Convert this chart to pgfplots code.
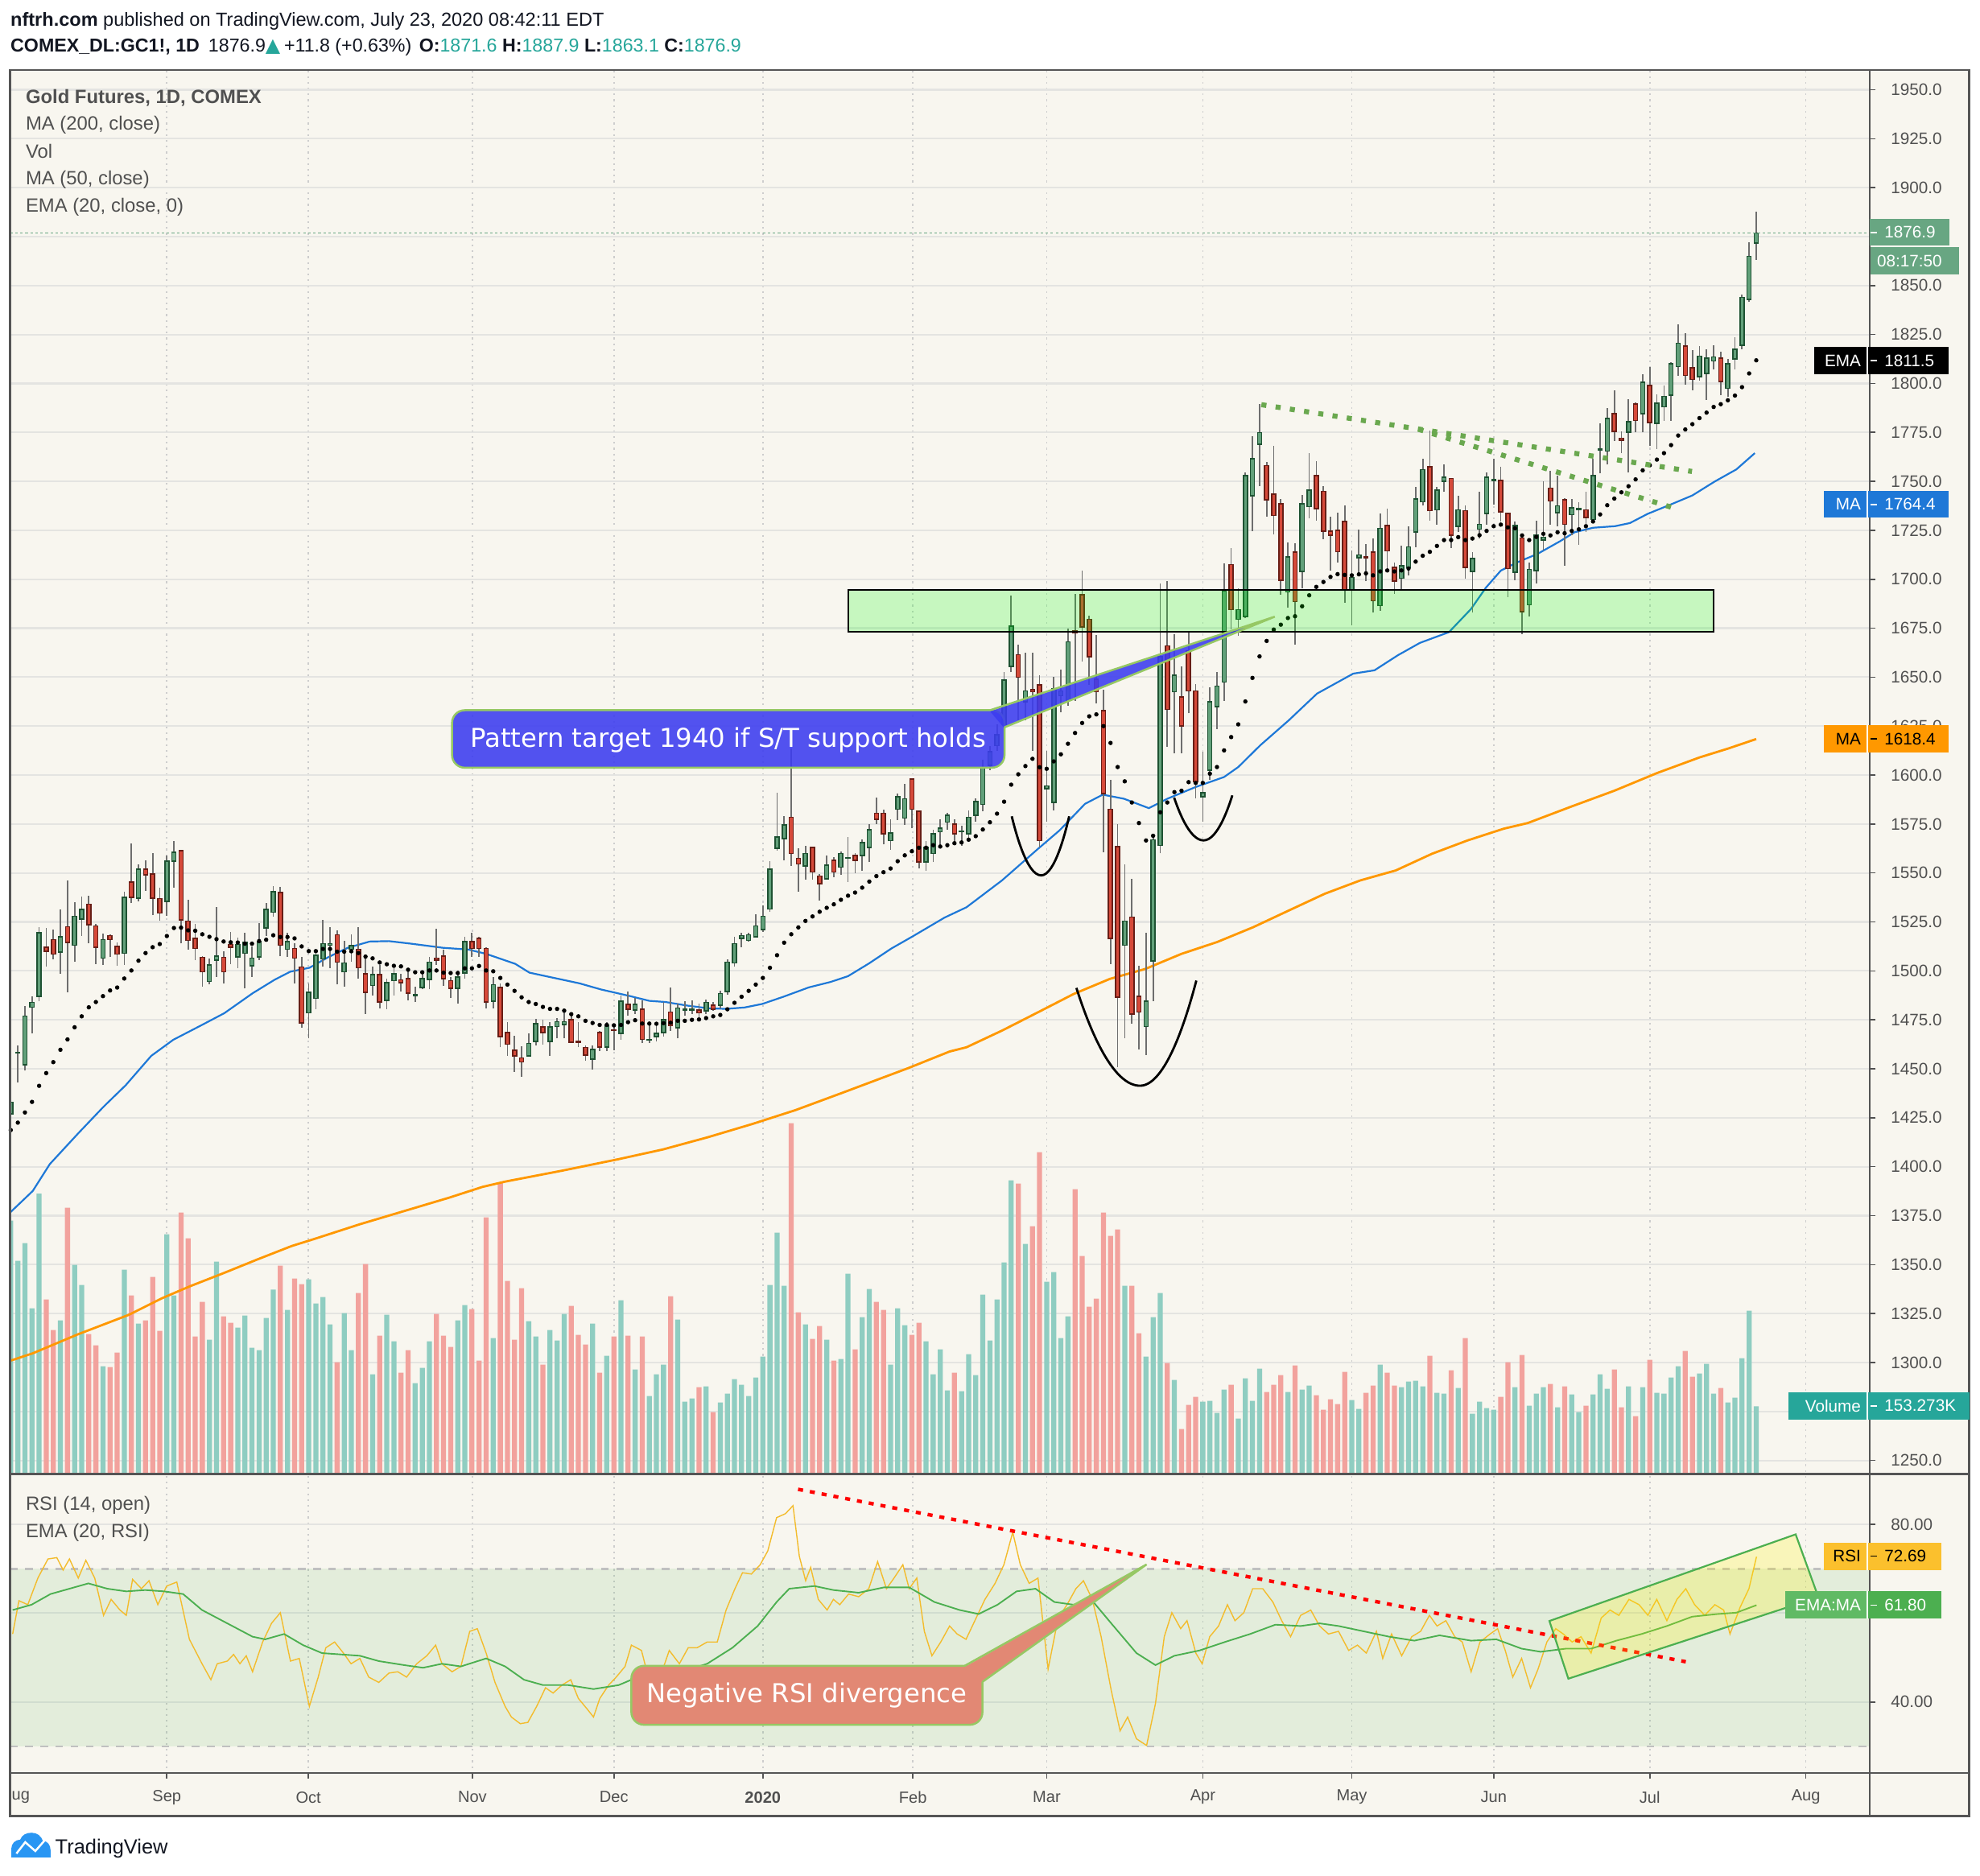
\documentclass[border=0pt]{standalone}
\usepackage{pgfplots}
\pgfplotsset{compat=1.18}
\usepackage{pgfplotstable}
\usepackage{fontspec}
\setmainfont{Liberation Sans}
\newfontfamily\dejavu{DejaVu Sans}

\definecolor{bgc}{RGB}{248,246,239}
\definecolor{gridc}{RGB}{228,228,225}
\definecolor{mgrid}{RGB}{205,205,205}
\definecolor{upfill}{RGB}{98,160,122}
\definecolor{upline}{RGB}{30,82,50}
\definecolor{dnfill}{RGB}{214,74,58}
\definecolor{dnline}{RGB}{104,30,22}
\definecolor{wickc}{RGB}{110,110,110}
\definecolor{volup}{RGB}{143,205,193}
\definecolor{voldn}{RGB}{242,162,157}
\definecolor{ma200}{RGB}{255,152,0}
\definecolor{ma50}{RGB}{30,120,215}
\definecolor{tagg}{RGB}{104,166,130}
\definecolor{tealc}{RGB}{38,166,154}
\definecolor{labc}{RGB}{80,80,80}
\definecolor{tickc}{RGB}{80,80,80}
\definecolor{framec}{RGB}{85,85,85}
\definecolor{hdrc}{RGB}{19,23,34}
\definecolor{legc}{RGB}{80,80,80}
\definecolor{rsic}{RGB}{243,188,45}
\definecolor{rsiema}{RGB}{76,175,80}
\definecolor{bandc}{RGB}{76,175,80}
\definecolor{dashc}{RGB}{192,192,192}
\definecolor{tdots}{RGB}{106,168,79}
\definecolor{cblue}{RGB}{60,60,240}
\definecolor{cborder}{RGB}{150,200,100}
\definecolor{csalmon}{RGB}{226,136,116}
\definecolor{rsitag}{RGB}{251,192,45}
\definecolor{ematag}{RGB}{76,175,80}
\definecolor{ematagl}{RGB}{96,186,100}
\definecolor{tvblue}{RGB}{41,150,243}

\newcommand\fs[1]{\fontsize{#1}{#1}\selectfont}

\pgfplotstableread{
i o h l c v
0 1427 1436 1413 1433 945
1 1458 1462 1443 1458.5 795
2 1452 1482 1449 1477 861
3 1481.5 1487 1468 1484 618
4 1487 1522.5 1484.5 1519.5 1046
5 1512 1522 1502 1510 651
6 1516 1521 1506 1508.5 537
7 1509.5 1531.5 1498.5 1517.5 573
8 1522.5 1546 1489 1514.5 993
9 1513 1535 1504.5 1528 780
10 1526.5 1538 1518 1531.5 705
11 1534 1538.5 1514 1523.5 522
12 1523 1524 1503.5 1512 480
13 1506.5 1519 1503 1516 402
14 1518 1518.5 1507 1516 399
15 1512.5 1514.5 1502.5 1508.5 453
16 1509 1540.5 1503 1537.5 762
17 1545.5 1565 1534.5 1537.5 666
18 1537 1554.5 1535.5 1552 561
19 1552 1556.5 1541 1549 573
20 1549.5 1560 1528.5 1537 735
21 1537 1542.5 1525.5 1529.5 534
22 1535.5 1559 1528 1556 894
23 1556 1566.5 1542.5 1560.5 666
24 1561.5 1562 1514 1526 975
25 1525.5 1536.5 1511 1515.5 879
26 1516.5 1524 1505.5 1511.5 513
27 1507 1507.5 1492 1499.5 642
28 1494.5 1506.5 1493 1503 501
29 1505.5 1532.5 1497 1507.5 792
30 1507 1510 1493.5 1499.5 588
31 1513.5 1520 1503.5 1512 564
32 1507 1517 1501.5 1513.5 546
33 1509 1519.5 1491 1514.5 591
34 1502.5 1512.5 1497 1506.5 471
35 1507 1524.5 1505.5 1515 462
36 1522 1534.5 1518 1531.5 582
37 1530 1543.5 1527.5 1540.5 688
38 1540 1543 1507.5 1513 777
39 1511 1519.5 1507 1515 612
40 1511.5 1514 1493.5 1506.5 729
41 1502 1507 1471 1473.5 708
42 1478.5 1493.5 1465.5 1489 726
43 1486 1511 1480.5 1508 636
44 1506 1526 1502 1514 660
45 1513 1522.5 1501.5 1514 558
46 1518.5 1520.5 1493 1504.5 417
47 1499.5 1515.5 1492 1504 600
48 1511 1518.5 1504.5 1513 462
49 1511 1522.5 1496 1501.5 675
50 1498.5 1507.5 1478 1489 783
51 1492.5 1502 1487.5 1498 372
52 1498 1503 1481 1484 516
53 1485 1496 1480.5 1494 594
54 1495 1503 1487.5 1498.5 495
55 1495.5 1498.5 1489.5 1494 378
56 1496 1500 1485 1488.5 462
57 1487.5 1492 1484 1488 339
58 1491.5 1500 1490.5 1496 396
59 1495.5 1507 1490.5 1504.5 495
60 1506.5 1521.5 1503 1505.5 597
61 1507.5 1511 1492.5 1496 516
62 1495 1497 1486 1491 474
63 1491 1500 1483.5 1497 573
64 1499 1517.5 1496 1515 630
65 1515 1519.5 1507 1511.5 615
66 1516.5 1517.5 1507 1511.5 423
67 1511.5 1512 1481 1484 957
68 1484.5 1497 1481 1493 507
69 1491.5 1493.5 1461 1466.5 1086
70 1468.5 1474 1456.5 1462.5 720
71 1459.5 1467 1448.5 1456.5 501
72 1455.5 1461.5 1446 1453.5 693
73 1456.5 1468 1456 1463 570
74 1464 1475.5 1462 1473 513
75 1471.5 1475 1462.5 1468.5 408
76 1464 1474 1456.5 1471.5 537
77 1471.5 1476 1465.5 1474 498
78 1472.5 1480 1465.5 1474 597
79 1475 1478 1463 1463.5 627
80 1464 1474 1461 1463.5 519
81 1461 1462 1454 1457 483
82 1455 1462 1449.5 1460 561
83 1468.5 1469.5 1459 1461 378
84 1461 1474 1459 1472.5 441
85 1470 1471.5 1459.5 1469.5 513
86 1468 1487.5 1465 1484.5 648
87 1483 1489.5 1477 1480.5 516
88 1480 1486 1478 1483 390
89 1480.5 1485 1463 1465 513
90 1464.5 1474 1463 1465 291
91 1466.5 1473.5 1464 1468 372
92 1468.5 1484 1466.5 1475 408
93 1479 1491.5 1469.5 1472 663
94 1471 1483.5 1465.5 1481 576
95 1480 1484.5 1477 1480.5 270
96 1480 1485 1478 1480.5 282
97 1480 1483.5 1476 1478.5 324
98 1479.5 1485.5 1478 1484 327
99 1482.5 1484 1479.5 1480.5 231
100 1482.5 1490 1481 1488.5 267
101 1489.5 1506 1488 1504.5 300
102 1504 1517.5 1502 1514 354
103 1516.5 1519.5 1512 1518 333
104 1515.5 1519.5 1515 1518.5 291
105 1517.5 1529 1517 1523 360
106 1521 1533.5 1520 1528 438
107 1531.5 1556 1530 1552 705
108 1562.5 1591 1561.5 1568.5 900
109 1567.5 1579 1556.5 1574.5 702
110 1578.5 1613.5 1553.5 1560 1308
111 1557.5 1562.5 1540.5 1554.5 603
112 1553.5 1564 1546.5 1560 558
113 1563 1563 1546.5 1550.5 504
114 1548.5 1549.5 1536 1544.5 552
115 1547 1559 1546.5 1554 501
116 1556.5 1558 1548 1550.5 423
117 1553 1561 1549 1560 429
118 1557.5 1568.5 1545.5 1558 747
119 1559 1560 1550 1556.5 465
120 1559 1567 1551 1565.5 585
121 1563 1575 1555.5 1572 690
122 1580.5 1588.5 1575 1577.5 642
123 1580.5 1582.5 1564.5 1570 612
124 1566.5 1577.5 1562 1570.5 408
125 1582.5 1590.5 1577 1589 618
126 1578 1595.5 1574.5 1588 555
127 1598 1598.5 1573 1582.5 519
128 1581.5 1581.5 1552.5 1555.5 564
129 1555.5 1566.5 1551 1563 495
130 1560 1572 1555.5 1570 372
131 1571 1577.5 1562.5 1573 465
132 1576 1580.5 1572 1579.5 312
133 1575 1577.5 1565.5 1570 378
134 1571 1574 1564 1571.5 309
135 1570 1582 1566.5 1578.5 447
136 1579.5 1588 1576 1586.5 369
137 1585 1608 1581.5 1603.5 669
138 1605 1615 1602.5 1612 498
139 1615 1626 1612.5 1620.5 651
140 1626 1652.5 1624.5 1648.5 789
141 1655.5 1691.5 1652.5 1676 1095
142 1661.5 1666.5 1628 1650 1083
143 1637.5 1662.5 1628 1643 858
144 1643.5 1662.5 1612.5 1642.5 924
145 1646 1651 1563 1566.5 1200
146 1593 1612.5 1576 1594.5 717
147 1586 1650 1582 1644 753
148 1640.5 1654 1632 1643 507
149 1638 1675 1635.5 1668 588
150 1673.5 1692.5 1638 1672.5 1062
151 1692 1704.5 1658 1675.5 813
152 1679.5 1681.5 1646 1660.5 624
153 1649 1671.5 1636.5 1642.5 654
154 1633 1643.5 1560.5 1590.5 975
155 1582.5 1597.5 1503.5 1516.5 888
156 1563.5 1575 1451 1486.5 912
157 1513 1554.5 1465.5 1525.5 702
158 1527.5 1547 1473 1478 702
159 1487 1502.5 1460 1479 525
160 1471.5 1519.5 1457 1484.5 438
161 1505 1570 1484.5 1567 585
162 1564 1698 1560 1660.5 675
163 1666 1699 1614.5 1633.5 414
164 1642.5 1672 1611 1651 351
165 1640 1655.5 1611 1625 168
166 1663.5 1673 1631.5 1643 258
167 1643 1646.5 1588 1596.5 288
168 1589 1612 1576 1591 270
169 1602.5 1645 1597.5 1637.5 273
170 1635 1652.5 1623.5 1645.5 228
171 1647.5 1708 1638 1694 315
172 1707.5 1716 1674.5 1684.5 333
173 1679.5 1695.5 1671 1684.5 207
174 1681 1754.5 1680 1753 357
175 1742.5 1773 1724.5 1761.5 273
176 1769 1789.5 1747.5 1775 393
177 1758 1760 1732 1740.5 306
178 1743.5 1768 1723 1732.5 333
179 1738.5 1741 1692 1699.5 369
180 1693.5 1719 1685.5 1711.5 306
181 1714 1718.5 1666.5 1688.5 405
182 1704 1743 1695.5 1738.5 315
183 1737 1764.5 1731 1745.5 330
184 1753 1760.5 1730 1736 294
185 1745 1747.5 1720.5 1724.5 240
186 1724.5 1732 1704.5 1722.5 279
187 1725 1734 1708.5 1714 261
188 1729.5 1737.5 1688 1694.5 381
189 1694.5 1714.5 1676.5 1701 276
190 1711 1725.5 1702.5 1712.5 243
191 1711.5 1718 1699 1711 303
192 1714 1721 1683 1689 330
193 1686.5 1733.5 1684 1726 408
194 1727.5 1736 1703.5 1714.5 378
195 1706 1708.5 1692.5 1699 330
196 1700.5 1717 1694.5 1707 324
197 1706 1727 1702 1716.5 345
198 1724 1747 1716.5 1741 348
199 1739.5 1761.5 1737.5 1756 327
200 1757.5 1776 1730 1735 441
201 1735.5 1747 1728 1745.5 303
202 1750 1758.5 1744.5 1752 300
203 1751.5 1751.5 1716 1722.5 387
204 1727 1742.5 1724 1735.5 321
205 1735 1737.5 1700.5 1706 507
206 1704 1714 1683 1710.5 225
207 1725.5 1744.5 1721 1728 270
208 1733.5 1754.5 1728 1752 246
209 1750.5 1761.5 1738 1751 240
210 1750.5 1757.5 1729.5 1734.5 288
211 1733.5 1734 1691 1705.5 417
212 1703.5 1729.5 1699.5 1727.5 324
213 1721 1723 1672 1683.5 444
214 1687 1708.5 1681 1705 255
215 1704.5 1730 1698 1722.5 300
216 1720 1750 1714.5 1721.5 324
217 1746.5 1755.5 1728 1740 336
218 1734 1753 1727 1737.5 249
219 1740.5 1741.5 1707 1728 327
220 1733 1741 1722.5 1736.5 297
221 1735.5 1739.5 1717.5 1736 231
222 1735.5 1744.5 1724 1731.5 255
223 1730.5 1761.5 1728.5 1753 297
224 1766 1779.5 1754 1766.5 372
225 1765.5 1787.5 1758.5 1782 318
226 1784.5 1796.5 1770.5 1775.5 390
227 1772 1775.5 1764.5 1771 249
228 1775 1792 1754.5 1780.5 327
229 1789.5 1790.5 1775 1781 216
230 1784.5 1804.5 1775 1800.5 324
231 1799 1808.5 1768 1780 426
232 1779.5 1794.5 1766.5 1790 303
233 1788 1799 1781 1793.5 300
234 1794 1811 1781 1810 360
235 1808.5 1830 1804 1820.5 402
236 1819 1825.5 1799.5 1804 459
237 1808 1817 1796.5 1802 363
238 1803.5 1819 1801.5 1814 375
239 1805 1817.5 1791.5 1813 411
240 1811.5 1819.5 1807 1813.5 300
241 1813 1816 1794 1801 321
242 1797.5 1812.5 1793 1810 267
243 1812.5 1823.5 1807 1817.5 285
244 1819.5 1845.5 1817.5 1844 432
245 1843 1872 1841.5 1865 609
246 1871.6 1887.9 1863.1 1876.9 253
}\candles

\pgfplotstableread{
i e
0 1418.7
1 1422.5
2 1427.7
3 1433.1
4 1441.3
5 1447.8
6 1453.4
7 1459.7
8 1465.0
9 1471.2
10 1476.8
11 1481.4
12 1484.1
13 1487.1
14 1490.0
15 1491.5
16 1496.1
17 1500.2
18 1505.2
19 1509.1
20 1512.1
21 1513.7
22 1517.8
23 1521.9
24 1522.1
25 1520.7
26 1520.5
27 1518.7
28 1517.4
29 1516.2
30 1515.0
31 1514.6
32 1514.5
33 1513.9
34 1513.9
35 1515.2
36 1515.9
37 1518.2
38 1517.3
39 1517.3
40 1516.6
41 1512.5
42 1510.1
43 1510.1
44 1511.2
45 1511.2
46 1509.8
47 1509.8
48 1510.0
49 1509.1
50 1507.3
51 1506.4
52 1504.3
53 1503.4
54 1502.6
55 1502.3
56 1500.6
57 1499.3
58 1499.3
59 1500.2
60 1500.2
61 1499.1
62 1498.9
63 1498.9
64 1501.3
65 1501.3
66 1502.5
67 1500.2
68 1499.8
69 1496.4
70 1493.0
71 1489.8
72 1486.5
73 1484.1
74 1483.1
75 1481.6
76 1480.6
77 1480.6
78 1479.7
79 1477.9
80 1476.8
81 1474.5
82 1473.4
83 1472.4
84 1472.4
85 1472.2
86 1472.4
87 1473.8
88 1474.8
89 1473.1
90 1473.1
91 1473.0
92 1473.3
93 1473.5
94 1474.5
95 1474.5
96 1475.0
97 1475.2
98 1475.9
99 1476.8
100 1477.5
101 1480.4
102 1483.7
103 1486.8
104 1489.8
105 1493.0
106 1496.4
107 1501.6
108 1508.0
109 1514.4
110 1518.7
111 1522.2
112 1525.5
113 1527.8
114 1530.2
115 1532.2
116 1534.0
117 1536.3
118 1538.4
119 1540.0
120 1542.5
121 1545.6
122 1548.4
123 1550.4
124 1552.3
125 1556.0
126 1559.0
127 1561.1
128 1562.9
129 1562.9
130 1564.2
131 1563.5
132 1564.2
133 1565.2
134 1565.6
135 1567.0
136 1568.8
137 1572.2
138 1575.9
139 1580.3
140 1586.4
141 1595.1
142 1600.4
143 1604.6
144 1608.3
145 1604.0
146 1603.2
147 1607.0
148 1610.6
149 1616.0
150 1621.5
151 1626.6
152 1630.0
153 1631.0
154 1625.0
155 1616.4
156 1604.1
157 1596.8
158 1586.0
159 1575.5
160 1566.6
161 1569.0
162 1581.0
163 1586.0
164 1591.3
165 1592.0
166 1596.4
167 1596.0
168 1596.0
169 1600.7
170 1604.1
171 1612.6
172 1619.4
173 1625.9
174 1637.6
175 1649.6
176 1660.6
177 1668.5
178 1674.3
179 1676.8
180 1680.2
181 1681.1
182 1686.2
183 1691.8
184 1696.1
185 1698.6
186 1701.2
187 1702.6
188 1702.2
189 1702.0
190 1702.5
191 1703.0
192 1702.0
193 1704.0
194 1704.5
195 1704.0
196 1704.5
197 1705.5
198 1709.0
199 1712.0
200 1714.0
201 1717.0
202 1720.0
203 1720.0
204 1721.5
205 1720.0
206 1720.8
207 1722.5
208 1724.7
209 1727.1
210 1727.9
211 1726.5
212 1726.0
213 1722.4
214 1720.0
215 1721.6
216 1723.2
217 1722.4
218 1724.0
219 1723.5
220 1724.7
221 1725.5
222 1727.1
223 1729.5
224 1733.1
225 1737.8
226 1741.2
227 1744.4
228 1747.5
229 1751.0
230 1755.6
231 1758.2
232 1761.1
233 1764.4
234 1768.5
235 1773.4
236 1776.5
237 1779.2
238 1782.3
239 1785.1
240 1788.0
241 1789.4
242 1791.4
243 1793.8
244 1798.1
245 1805.1
246 1811.8
}\emadata

\pgfplotsset{
  mainax/.style={at={(4pt,158.85pt)}, anchor=south west, scale only axis,
    width=736.2pt, height=555.9pt, xmin=-0.09, xmax=261.95, ymin=1243.0, ymax=1959.9},
  bodyup/.style={draw=none, mark=none, forget plot,
    restrict expr to domain={\thisrow{c}-\thisrow{o}}{0:10000}},
  bodydn/.style={draw=none, mark=none, forget plot,
    restrict expr to domain={\thisrow{c}-\thisrow{o}}{-10000:0}},
}
\tikzset{disp/.style={x=0.5pt, y=-0.5pt, yshift=742.6pt}}

\begin{document}
\begin{tikzpicture}
\useasboundingbox (0,0) rectangle (784pt,742.6pt);
\fill[white] (0,0) rectangle (784pt,742.6pt);
\begin{scope}[disp]
\fill[bgc] (8,55.7) rectangle (1559.4,1438.3);
\foreach \x in {132.1,244.2,374.1,486.2,604.1,722.9,828.9,952.5,1070.5,1182.9,1306.5,1430.1}{
  \draw[mgrid, line width=0.5pt, dash pattern=on 0.7pt off 1.6pt] (\x,55.7) -- (\x,1404.2);
}
\end{scope}

% ---- axis 1: price grid and labels
\begin{axis}[mainax, axis line style={draw=none}, xtick=\empty,
  ytick={1250,1300,1325,1350,1375,1400,1425,1450,1475,1500,1525,1550,1575,1600,1625,1650,1675,1700,1725,1750,1775,1800,1825,1850,1900,1925,1950},
  extra y ticks={1275,1875}, extra y tick labels={}, extra y tick style={grid=major},
  ymajorgrids, grid style={gridc, line width=0.7pt},
  ytick pos=right, yticklabel pos=right, tick align=outside, major tick length=2.5pt,
  tick style={draw=tickc, line width=0.5pt},
  yticklabel style={font=\fs{6.6}, text=labc, anchor=west, inner sep=0pt, xshift=5.8pt,
    /pgf/number format/.cd, fixed, fixed zerofill, precision=1, 1000 sep={}, assume math mode=true}]
\addplot[draw=none, forget plot] coordinates {(0,1300)};
\end{axis}

% ---- axis 2: volume
\begin{axis}[mainax, ymin=0, ymax=5233, hide axis]
\addplot[ybar, bar width=2.0pt, bar shift=0pt, draw=none, fill=volup,
  restrict expr to domain={\thisrow{c}-\thisrow{o}}{0:10000}] table[x=i, y=v] {\candles};
\addplot[ybar, bar width=2.0pt, bar shift=0pt, draw=none, fill=voldn,
  restrict expr to domain={\thisrow{c}-\thisrow{o}}{-10000:0}] table[x=i, y=v] {\candles};
\end{axis}

% ---- axis 3: price plots
\begin{axis}[mainax, hide axis]
\addplot[ma200, line width=0.9pt] coordinates {(0,1301) (3.1,1304.7) (9.4,1314.3) (16.6,1324.3) (21.3,1332.8) (25.3,1339) (30.1,1345.8) (34.8,1352.7) (39.6,1359.5) (42.7,1363) (49.1,1370.5) (55.4,1377.3) (61.8,1384.2) (66.5,1389.7) (69.7,1392.4) (77.6,1397.9) (85.6,1403.8) (91.9,1408.8) (98.2,1415) (104.6,1421.9) (110.6,1428.9) (117.1,1437.6) (126.6,1450.5) (132.3,1458.8) (134.7,1461) (139.7,1469.5) (144.8,1478.9) (149.8,1488.2) (154.9,1495.9) (159.9,1501) (165,1508.7) (170,1514.7) (175.1,1522.3) (180.1,1530.8) (185.2,1539.4) (190.2,1546.2) (195.2,1551.3) (200.3,1559.8) (205.3,1566.6) (210.4,1572.6) (213.8,1575.5) (220,1584) (226,1592) (232,1601) (238,1609) (242,1613.5) (246,1618.4)};
\addplot[ma50, line width=0.7pt] coordinates {(0,1376.9) (3.1,1387.6) (5.5,1401.3) (9.5,1417) (13.1,1430.7) (16.2,1441.6) (19.8,1456.6) (22.9,1464.8) (26.9,1472.3) (30.1,1478.4) (34.1,1488.6) (37.2,1495.5) (39.4,1499.6) (42.1,1501.6) (44.8,1507.1) (47.5,1511.8) (50.6,1515) (53.3,1515.2) (56.4,1513.9) (60.9,1511.8) (64.5,1510.9) (67,1508.7) (71.1,1503.6) (73.1,1499.1) (77.1,1496) (80.2,1493.6) (83.2,1490.5) (87.2,1487.2) (90,1484.7) (92.3,1484.1) (95.3,1482.3) (98.3,1480.9) (100.8,1480.6) (103.4,1481.3) (105.9,1483.1) (108.9,1486.8) (112.5,1491.6) (115.5,1494.3) (118,1497.3) (121,1503.9) (124.1,1511.4) (127.1,1517.6) (131.6,1527.2) (134.7,1532.5) (139.7,1546.2) (144.8,1562.4) (147.8,1571.7) (151.4,1585.3) (153.9,1590) (156.9,1587.9) (160.4,1583.1) (163,1587.9) (167,1593.9) (171,1599) (173,1604.1) (176.1,1615.2) (180.1,1627.9) (184.1,1641.6) (189.2,1651.8) (192.2,1653.5) (195.5,1661.2) (198.6,1667.5) (202.7,1673) (205.8,1684.8) (207.9,1695.7) (210,1704.4) (212.1,1708.3) (215.2,1713) (218.3,1719.3) (220.4,1724) (223,1726.3) (226.1,1727.1) (228.2,1728.7) (230.7,1733.4) (233.9,1738.1) (237,1742.8) (240.1,1749.8) (243.2,1756.1) (245.8,1764.4)};
% wicks
\addplot[draw=none, mark=none, forget plot, error bars/.cd, y dir=plus, y explicit, error mark=none,
  error bar style={draw=wickc, line width=0.55pt, solid}]
  table[x=i, y=l, y error plus expr={\thisrow{h}-\thisrow{l}}] {\candles};
% up bodies
\addplot[bodyup, error bars/.cd, y dir=plus, y explicit, error mark=none,
  error bar style={draw=upline, line width=2.1pt, solid}]
  table[x=i, y expr={min(\thisrow{o},\thisrow{c})-0.3}, y error plus expr={abs(\thisrow{c}-\thisrow{o})+0.6}] {\candles};
\addplot[bodyup, error bars/.cd, y dir=plus, y explicit, error mark=none,
  error bar style={draw=upfill, line width=1.1pt, solid}]
  table[x=i, y expr={min(\thisrow{o},\thisrow{c})+0.35}, y error plus expr={max(abs(\thisrow{c}-\thisrow{o})-0.7,0)}] {\candles};
% down bodies
\addplot[bodydn, error bars/.cd, y dir=plus, y explicit, error mark=none,
  error bar style={draw=dnline, line width=2.1pt, solid}]
  table[x=i, y expr={min(\thisrow{o},\thisrow{c})-0.3}, y error plus expr={abs(\thisrow{c}-\thisrow{o})+0.6}] {\candles};
\addplot[bodydn, error bars/.cd, y dir=plus, y explicit, error mark=none,
  error bar style={draw=dnfill, line width=1.1pt, solid}]
  table[x=i, y expr={min(\thisrow{o},\thisrow{c})+0.35}, y error plus expr={max(abs(\thisrow{c}-\thisrow{o})-0.7,0)}] {\candles};
% EMA 20 dots
\addplot[only marks, mark=*, mark size=0.65pt, mark options={fill=black, draw=none}] table[x=i, y=e] {\emadata};
\end{axis}

% ---- RSI pane
\begin{axis}[at={(4pt,40.5pt)}, anchor=south west, scale only axis, width=736.2pt, height=118.35pt,
  xmin=8, xmax=1480.4, ymin=24.0, ymax=91.3, axis line style={draw=none}, xtick=\empty,
  ytick={40,80}, extra y ticks={60}, extra y tick labels={}, extra y tick style={grid=major},
  ymajorgrids, grid style={gridc, line width=0.7pt},
  ytick pos=right, yticklabel pos=right, tick align=outside, major tick length=2.5pt,
  tick style={draw=tickc, line width=0.5pt},
  yticklabel style={font=\fs{6.6}, text=labc, anchor=west, inner sep=0pt, xshift=5.8pt,
    /pgf/number format/.cd, fixed, fixed zerofill, precision=2, assume math mode=true}]
\fill[bandc, fill opacity=0.12] (axis cs:8,30) rectangle (axis cs:1480.4,70);
\draw[dashc, line width=0.9pt, dash pattern=on 3pt off 3pt] (axis cs:8,70) -- (axis cs:1478,70);
\draw[dashc, line width=0.9pt, dash pattern=on 3pt off 3pt] (axis cs:8,30) -- (axis cs:1478,30);
\addplot[rsic, line width=0.45pt] coordinates {(10,55.3) (15,62.8) (22,61.9) (30,67.9) (38,72.2) (45,72.5) (50,69.7) (55,72.2) (62,67.9) (68,71.9) (75,67.9) (82,59.5) (88,63.1) (95,60.7) (100,59.5) (105,67.6) (112,65.5) (118,67.3) (125,61.9) (132,66.1) (140,67.0) (150,54.1) (160,48.6) (167,45.0) (172,48.6) (180,49.2) (185,50.7) (190,48.6) (195,50.4) (200,46.8) (208,53.5) (215,57.7) (222,60.1) (230,49.2) (237,49.8) (245,39.0) (252,45.6) (258,52.2) (265,53.5) (272,51.0) (278,48.6) (285,49.8) (292,45.6) (300,44.4) (308,46.5) (315,46.8) (322,45.6) (330,48.6) (338,50.4) (345,52.8) (350,48.6) (358,46.8) (365,48.0) (372,55.9) (378,56.5) (385,51.0) (392,44.4) (400,39.0) (405,36.6) (412,35.1) (418,35.4) (425,39.0) (432,43.2) (438,42.0) (445,43.8) (452,45.0) (458,40.8) (465,38.4) (470,36.6) (475,40.8) (482,43.8) (488,45.6) (495,48.0) (500,52.8) (508,51.6) (515,43.8) (522,45.0) (530,51.6) (538,48.6) (545,52.2) (552,52.2) (560,53.5) (568,53.5) (575,60.7) (582,65.5) (588,69.1) (595,68.8) (602,70.9) (608,74.0) (615,81.5) (622,82.4) (628,84.2) (633,72.8) (638,67.3) (642,70.3) (648,63.1) (655,60.7) (660,63.1) (665,61.9) (672,64.3) (680,63.7) (688,65.5) (695,71.6) (702,65.5) (708,67.9) (715,70.9) (720,65.5) (726,67.9) (732,55.9) (738,50.4) (745,53.5) (752,57.1) (758,55.3) (765,54.1) (772,58.3) (780,63.1) (788,66.7) (795,70.9) (802,78.2) (808,70.9) (815,66.7) (822,67.9) (830,47.4) (838,58.9) (845,61.9) (852,65.5) (858,67.3) (865,63.1) (872,54.7) (880,42.6) (887,33.5) (893,36.6) (900,31.7) (908,30.2) (915,39.6) (922,54.7) (928,60.1) (935,56.5) (940,58.3) (947,51.0) (952,48.6) (958,54.7) (965,57.1) (972,61.9) (978,58.3) (985,60.1) (992,65.5) (1000,65.5) (1008,62.5) (1015,58.3) (1022,54.7) (1030,59.5) (1038,60.7) (1045,57.1) (1052,55.3) (1060,55.9) (1068,51.6) (1075,52.8) (1082,51.0) (1090,55.9) (1095,49.8) (1102,55.3) (1110,50.4) (1118,54.7) (1125,55.9) (1132,59.5) (1138,57.1) (1145,58.3) (1152,54.7) (1158,53.5) (1165,46.8) (1172,53.5) (1180,55.3) (1186,56.5) (1192,51.6) (1198,45.6) (1205,49.8) (1212,43.2) (1218,47.4) (1225,53.5) (1232,56.5) (1238,55.3) (1245,53.5) (1252,54.7) (1260,51.0) (1268,58.9) (1275,60.7) (1282,59.5) (1290,63.1) (1298,61.9) (1305,59.5) (1312,63.1) (1320,58.3) (1328,63.1) (1335,65.5) (1342,61.9) (1350,59.5) (1358,61.9) (1365,60.7) (1370,55.3) (1378,61.3) (1385,65.5) (1391,72.7)};
\addplot[rsiema, line width=0.6pt] coordinates {(10,60.7) (25,61.9) (40,64.3) (55,65.5) (70,66.7) (85,65.5) (100,64.9) (115,65.2) (130,64.9) (145,64.3) (160,60.7) (180,57.7) (200,54.7) (210,54.1) (225,55.3) (240,52.8) (255,51.0) (270,50.7) (285,50.4) (300,49.2) (320,48.3) (335,47.7) (350,48.6) (365,48.0) (385,49.8) (400,48.0) (415,45.0) (430,43.8) (450,43.8) (470,42.9) (490,43.8) (505,45.6) (520,45.9) (540,46.8) (560,48.6) (580,52.2) (600,57.1) (615,62.5) (625,65.5) (645,66.1) (660,65.2) (680,64.6) (700,65.8) (720,65.8) (740,62.5) (760,60.7) (775,59.8) (790,61.9) (805,64.9) (820,65.5) (835,62.5) (850,61.9) (865,62.8) (880,57.7) (900,51.0) (915,48.3) (930,50.4) (950,51.6) (970,53.5) (990,55.3) (1010,57.4) (1030,57.1) (1045,57.7) (1060,57.1) (1080,55.9) (1100,54.7) (1120,53.8) (1140,55.0) (1165,53.8) (1185,54.1) (1205,52.0) (1220,51.3) (1240,52.0) (1260,52.0) (1280,53.8) (1300,55.3) (1320,57.1) (1340,59.2) (1360,59.8) (1375,60.1) (1391,61.8)};
\end{axis}

\begin{scope}[disp]
% ---- current price line
\draw[tagg, line width=0.5pt, dash pattern=on 1pt off 1pt] (8,184.4) -- (1480.4,184.4);

% ---- support zone
\fill[green, fill opacity=0.2] (672,467.3) rectangle (1357,500.3);
\draw[black, line width=0.6pt] (672,467.3) rectangle (1357,500.3);

% ---- head and shoulders arcs
\draw[black, line width=0.9pt] (801.2,646.5) parabola bend (824.5,693.3) (846.7,646.5);
\draw[black, line width=0.9pt] (852.4,782.4) parabola bend (902.8,859.9) (947.4,776.6);
\draw[black, line width=0.9pt] (929.8,631.7) parabola bend (953.1,665.6) (975.9,629.9);

% ---- green dotted trendlines
\draw[tdots, line width=2pt, dash pattern=on 2pt off 3.7pt] (998.9,320.5) -- (1339.9,373.4);
\draw[tdots, line width=2pt, dash pattern=on 2pt off 3.7pt] (1123.3,340) -- (1326.7,402.7);

% ---- blue callout
\fill[cblue, fill opacity=0.88, draw=cborder, line width=0.8pt, rounded corners=5pt] (358,562.5) rectangle (795.5,608);
\fill[cblue, fill opacity=0.88] (784,563.3) -- (1009.5,488.4) -- (794.7,576) -- cycle;
\draw[cborder, line width=0.8pt] (784,562.5) -- (1009.5,488.4) -- (795.5,576);
\node[anchor=west, inner sep=0pt, text=white, font=\dejavu\fs{10.3}] at (372,586) {Pattern target 1940 if S/T support holds};

% ---- RSI annotations
\draw[red, line width=1.4pt, dash pattern=on 2pt off 2.75pt] (632,1179.5) -- (1335,1316.1);
\fill[yellow, fill opacity=0.22, draw=rsiema, line width=0.7pt] (1227,1283.8) -- (1422,1215.2) -- (1440,1265) -- (1242,1329.5) -- cycle;
\fill[csalmon, draw=cborder, line width=0.8pt, rounded corners=5pt] (500,1319.3) rectangle (778,1366);
\fill[csalmon] (764,1320.2) -- (908,1239) -- (777.2,1332) -- cycle;
\draw[cborder, line width=0.8pt] (764,1319.3) -- (908,1239) -- (778,1332);
\node[inner sep=0pt, text=white, font=\dejavu\fs{10.3}] at (639,1343) {Negative RSI divergence};

% ---- frame
\draw[framec, line width=0.7pt] (8,55.7) rectangle (1559.4,1438.3);
\draw[framec, line width=0.7pt] (1480.4,55.7) -- (1480.4,1438.3);
\draw[framec, line width=0.9pt] (8,1167.5) -- (1559.4,1167.5);
\draw[framec, line width=0.7pt] (8,1404.2) -- (1559.4,1404.2);
\foreach \x in {132.1,244.2,374.1,486.2,604.1,722.9,828.9,952.5,1070.5,1182.9,1306.5,1430.1}{
  \draw[framec, line width=0.5pt] (\x,1404.2) -- (\x,1408.6);
}

% ---- time labels
\begin{scope}[every node/.style={inner sep=0pt, font=\fs{6.4}, text=labc}]
\node[anchor=west] at (9,1423.4) {ug};
\node at (132.1,1423.4) {Sep};
\node at (244.2,1423.4) {Oct};
\node at (374.1,1423.4) {Nov};
\node at (486.2,1423.4) {Dec};
\node[font=\fs{6.4}\bfseries] at (604.1,1423.4) {2020};
\node at (722.9,1423.4) {Feb};
\node at (828.9,1423.4) {Mar};
\node at (952.5,1423.4) {Apr};
\node at (1070.5,1423.4) {May};
\node at (1182.9,1423.4) {Jun};
\node at (1306.5,1423.4) {Jul};
\node at (1430.1,1423.4) {Aug};
\end{scope}

% ---- tags
\begin{scope}[every node/.style={inner sep=0pt, font=\fs{6.6}}]
\fill[tagg] (1480.4,173.5) rectangle (1543.5,194.6);
\draw[white, line width=0.5pt] (1481.5,184.1) -- (1486.4,184.1);
\node[anchor=west, text=white] at (1492,184.1) {1876.9};
\fill[tagg] (1481.6,195.9) rectangle (1551.7,217.5);
\node[anchor=west, text=white] at (1486,206.7) {08:17:50};
\fill[black] (1436.6,275) rectangle (1543.4,296.1);
\draw[white, line width=0.6pt] (1478.6,275) -- (1478.6,296.1);
\draw[white, line width=0.5pt] (1481.5,285.5) -- (1486.4,285.5);
\node[anchor=east, text=white] at (1474,285.5) {EMA};
\node[anchor=west, text=white] at (1492,285.5) {1811.5};
\fill[ma50] (1444.3,389) rectangle (1543.4,410);
\draw[white, line width=0.6pt] (1478.6,389) -- (1478.6,410);
\draw[white, line width=0.5pt] (1481.5,399.5) -- (1486.4,399.5);
\node[anchor=east, text=white] at (1474,399.5) {MA};
\node[anchor=west, text=white] at (1492,399.5) {1764.4};
\fill[ma200] (1444.3,574.2) rectangle (1543.4,596.1);
\draw[white, line width=0.6pt] (1478.6,574.2) -- (1478.6,596.1);
\draw[black, line width=0.5pt] (1481.5,585.1) -- (1486.4,585.1);
\node[anchor=east, text=black] at (1474,585.1) {MA};
\node[anchor=west, text=black] at (1492,585.1) {1618.4};
\fill[tealc] (1416.2,1102.6) rectangle (1559.4,1124.2);
\draw[white, line width=0.6pt] (1478.6,1102.6) -- (1478.6,1124.2);
\draw[white, line width=0.5pt] (1481.5,1113.4) -- (1486.4,1113.4);
\node[anchor=east, text=white] at (1474,1113.4) {Volume};
\node[anchor=west, text=white] at (1492,1113.4) {153.273K};
\fill[rsitag] (1444.3,1221.7) rectangle (1537.1,1243.3);
\draw[white, line width=0.6pt] (1478.6,1221.7) -- (1478.6,1243.3);
\draw[black, line width=0.5pt] (1481.5,1232.5) -- (1486.4,1232.5);
\node[anchor=east, text=black] at (1474,1232.5) {RSI};
\node[anchor=west, text=black] at (1492,1232.5) {72.69};
\fill[ematagl] (1413.6,1260.4) rectangle (1478.6,1282);
\fill[ematag] (1478.6,1260.4) rectangle (1537.1,1282);
\draw[white, line width=0.6pt] (1478.6,1260.4) -- (1478.6,1282);
\draw[white, line width=0.5pt] (1481.5,1271.2) -- (1486.4,1271.2);
\node[anchor=east, text=white] at (1474,1271.2) {EMA:MA};
\node[anchor=west, text=white] at (1492,1271.2) {61.80};
\end{scope}

% ---- header
\node[anchor=base west, inner sep=0pt, font=\fs{7.5}, text=hdrc] at (8,20.8)
  {\textbf{nftrh.com} published on TradingView.com, July 23, 2020 08:42:11 EDT};
\node[anchor=base west, inner sep=0pt, font=\fs{7.4}, text=hdrc] at (8,41.4)
  {\textbf{COMEX\_DL:GC1!, 1D}\hspace{3.5pt}1876.9{\color{tealc}\dejavu\fs{7.6}▲}\hspace{1.5pt}+11.8 (+0.63\%)\hspace{3pt}\textbf{O:}{\color{tealc}1871.6} \textbf{H:}{\color{tealc}1887.9} \textbf{L:}{\color{tealc}1863.1} \textbf{C:}{\color{tealc}1876.9}};

% ---- legends
\begin{scope}[every node/.style={anchor=base west, inner sep=0pt, font=\fs{7.6}, text=legc}]
\node at (20,81.8) {\textbf{Gold Futures, 1D, COMEX}};
\node at (20,103) {MA (200, close)};
\node at (20,125.3) {Vol};
\node at (20,146.6) {MA (50, close)};
\node at (20,167.8) {EMA (20, close, 0)};
\node at (20,1196) {RSI (14, open)};
\node at (20,1217.5) {EMA (20, RSI)};
\end{scope}

% ---- TradingView logo
\fill[tvblue] (9,1471) -- (9,1464) to[out=90,in=180] (16,1457) to[out=70,in=180] (25,1451.5) to[out=0,in=110] (34,1458) to[out=0,in=90] (40,1465) -- (40,1471) -- cycle;
\draw[white, line width=0.8pt] (13,1468) -- (20,1459) -- (28,1466) -- (35,1458);
\node[anchor=base west, inner sep=0pt, font=\fs{8.1}, text=hdrc] at (43.4,1468) {TradingView};
\end{scope}
\end{tikzpicture}
\end{document}
